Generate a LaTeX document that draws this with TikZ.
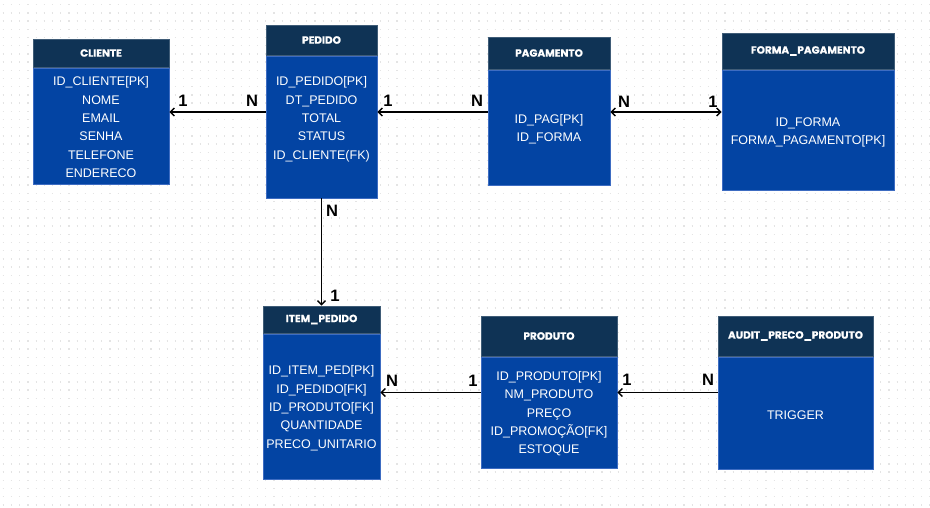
\documentclass[tikz,border=0pt]{standalone}
\usepackage{fontspec}
\usetikzlibrary{arrows.meta}
\setmainfont{Liberation Sans}
\newfontfamily\hdrfont{Poppins}[BoldFeatures={FakeBold=0.6}]
\definecolor{hdrc}{HTML}{0F3355}
\definecolor{bodyc}{HTML}{0344A3}
\definecolor{edgec}{HTML}{3D6CC2}
\definecolor{dotc}{HTML}{E4E4E4}
\tikzset{
 hdr/.style={fill=hdrc, draw=hdrc!80!white, line width=0.6pt, inner sep=0pt, text=white,
   font=\hdrfont\bfseries\fontsize{10.5}{12}\selectfont},
 bodybox/.style={fill=bodyc, draw=edgec, line width=0.6pt, inner sep=0pt},
 fields/.style={text=white, align=center, inner sep=0pt, yshift=-1.8pt, font=\fontsize{12.5}{18.4}\selectfont},
 rel/.style={line width=1.6pt, -{Straight Barb[length=4pt,width=8pt,line width=1.4pt]}},
 relb/.style={line width=1.6pt, {Straight Barb[length=4pt,width=8pt,line width=1.4pt]}-{Straight Barb[length=4pt,width=8pt,line width=1.4pt]}},
 card/.style={font=\bfseries\fontsize{16.5}{18}\selectfont, inner sep=0pt, text=black},
}
% #1 name, #2 x1, #3 x2, #4 y top, #5 y header bottom, #6 y bottom, #7 title
\newcommand\mkentity[7]{%
 \node[hdr, minimum width={#3-#2}, minimum height={#5-#4}] (#1H) at ({(#2+#3)/2},{(#4+#5)/2}) {#7};
 \node[bodybox, minimum width={#3-#2}, minimum height={#6-#5-1.5}] (#1B) at ({(#2+#3)/2},{(#5+1.5+#6)/2}) {};
}
\begin{document}
\begin{tikzpicture}[x=1pt,y=-1pt]
\fill[white] (0,0) rectangle (930,508);
\useasboundingbox (0,0) rectangle (930,508);
\foreach \j in {0,...,61}
  \draw[dotc, line width=1.3pt, dash pattern=on 1.3pt off 6.9pt] ({2.7},{4.7+8.2*\j}) -- ({930},{4.7+8.2*\j});

\mkentity{cli}{33}{169}{39}{67}{184}{CLIENTE}
\mkentity{ped}{266}{377}{25}{55}{198}{PEDIDO}
\mkentity{pag}{488}{610}{37}{69}{185}{PAGAMENTO}
\mkentity{frm}{722}{894}{33}{69}{190}{FORMA\_PAGAMENTO}
\mkentity{itm}{263}{380}{306}{333}{479}{ITEM\_PEDIDO}
\mkentity{prd}{481}{617}{316}{356}{468}{PRODUTO}
\mkentity{aud}{718}{873}{316}{356}{469}{AUDIT\_PRECO\_PRODUTO}

\node[fields] (cliT) at (101,125.5) {ID\_CLIENTE[PK]\\NOME\\EMAIL\\SENHA\\TELEFONE\\ENDERECO};
\node[fields] (pedT) at (321.5,117.5) {ID\_PEDIDO[PK]\\DT\_PEDIDO\\TOTAL\\STATUS\\ID\_CLIENTE(FK)};
\node[fields] (pagT) at (549,127.5) {ID\_PAG[PK]\\ID\_FORMA};
\node[fields] (frmT) at (808,130.5) {ID\_FORMA\\FORMA\_PAGAMENTO[PK]};
\node[fields] (itmT) at (321.5,406.5) {ID\_ITEM\_PED[PK]\\ID\_PEDIDO[FK]\\ID\_PRODUTO[FK]\\QUANTIDADE\\PRECO\_UNITARIO};
\node[fields] (prdT) at (549,412) {ID\_PRODUTO[PK]\\NM\_PRODUTO\\PREÇO\\ID\_PROMOÇÃO[FK]\\ESTOQUE};
\node[fields] (audT) at (795.5,413.5) {TRIGGER};

\coordinate (yA) at (0,112);
\coordinate (yB) at (0,392.5);
\draw[rel] (pedB.west |- yA) -- (cliB.east |- yA);
\draw[rel] (pagB.west |- yA) -- (pedB.east |- yA);
\draw[relb] (pagB.east |- yA) -- (frmB.west |- yA);
\draw[rel] (pedB.south) -- (itmH.north);
\draw[rel] (prdB.west |- yB) -- (itmB.east |- yB);
\draw[rel] (audB.west |- yB) -- (prdB.east |- yB);

\node[card] (c1) at (183,101) {1};
\node[card] (c2) at (252,101) {N};
\node[card] (c3) at (388,101) {1};
\node[card] (c4) at (477,101) {N};
\node[card] (c5) at (624,102) {N};
\node[card] (c6) at (713,102) {1};
\node[card] (c7) at (332,211) {N};
\node[card] (c8) at (335,296) {1};
\node[card] (c9) at (392,381) {N};
\node[card] (c10) at (473,381) {1};
\node[card] (c11) at (627,380) {1};
\node[card] (c12) at (708,380) {N};
\end{tikzpicture}
\end{document}
